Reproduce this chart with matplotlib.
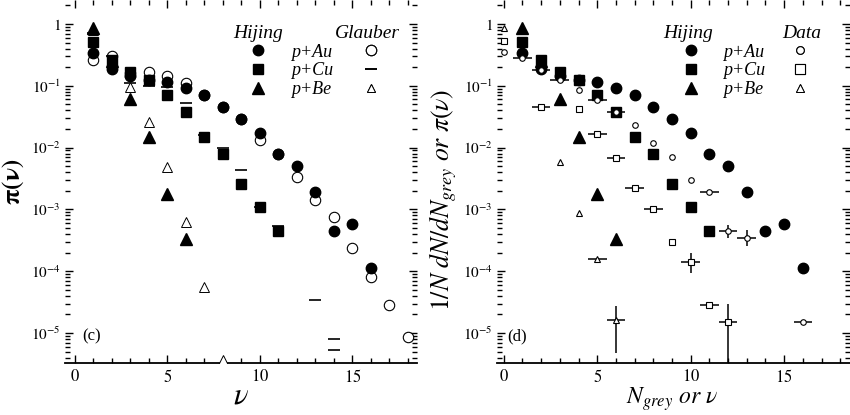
import numpy as np
import matplotlib
matplotlib.use("Agg")
import matplotlib.pyplot as plt
from matplotlib.lines import Line2D
from matplotlib.ticker import MultipleLocator, LogLocator, FuncFormatter, NullFormatter

plt.rcParams['font.family'] = ['Liberation Serif', 'DejaVu Serif']
plt.rcParams['mathtext.fontset'] = 'stix'

# ---------------- data ----------------
# Hijing pi(nu)
hij_au_nu = [1, 2, 3, 4, 5, 6, 7, 8, 9, 10, 11, 12, 13, 14, 15, 16]
hij_au = [0.34, 0.19, 0.144, 0.124, 0.115, 0.092, 0.071, 0.045, 0.029, 0.0173,
          0.0079, 0.0050, 0.00193, 4.5e-4, 5.7e-4, 1.12e-4]
hij_cu_nu = [1, 2, 3, 4, 5, 6, 7, 8, 9, 10, 11]
hij_cu = [0.51, 0.26, 0.17, 0.124, 0.071, 0.038, 0.0148, 0.0079, 0.0026, 0.0011, 4.5e-4]
hij_be_nu = [1, 2, 3, 4, 5, 6]
hij_be = [0.86, 0.25, 0.061, 0.0148, 0.0018, 3.3e-4]

# Glauber pi(nu)
gl_au_nu = [1, 2, 3, 4, 5, 6, 7, 8, 9, 10, 11, 12, 13, 14, 15, 16, 17, 18]
gl_au = [0.26, 0.30, 0.16, 0.17, 0.144, 0.111, 0.070, 0.045, 0.029, 0.0134,
         0.0080, 0.0033, 0.0014, 7.6e-4, 2.4e-4, 8.1e-5, 2.8e-5, 8.7e-6]
gl_cu_nu = [1, 2, 3, 4, 5, 6, 7, 8, 9, 10, 11, 13, 14, 14]
gl_cu = [0.71, 0.30, 0.11, 0.10, 0.096, 0.052, 0.016, 0.0098, 0.0044, 0.0011,
         5.3e-4, 3.4e-5, 7.9e-6, 5.3e-6]
gl_be_nu = [1, 2, 3, 4, 5, 6, 7, 8]
gl_be = [0.80, 0.25, 0.096, 0.026, 0.0049, 6.3e-4, 5.5e-5, 3.6e-6]

# Data 1/N dN/dNgrey
dat_au_n = [0, 1, 2, 3, 4, 5, 6, 7, 8, 9, 10, 11, 12, 13, 16]
dat_au = [0.35, 0.28, 0.18, 0.124, 0.085, 0.059, 0.038, 0.023, 0.0118, 0.0071,
          0.0030, 0.0019, 4.5e-4, 3.5e-4, 1.48e-5]
dat_au_xerr = [0, 0.5, 0.5, 0.5, 0, 0.5, 0.5, 0, 0, 0, 0, 0.5, 0.5, 0.5, 0.5]
dat_au_lo = [0.35, 0.28, 0.18, 0.124, 0.085, 0.059, 0.038, 0.023, 0.0118, 0.0071,
             0.0030, 0.0019, 3.4e-4, 2.6e-4, 1.48e-5]
dat_au_hi = [0.35, 0.28, 0.18, 0.124, 0.085, 0.059, 0.038, 0.023, 0.0118, 0.0071,
             0.0030, 0.0019, 5.6e-4, 4.6e-4, 1.48e-5]

dat_cu_n = [0, 2, 4, 5, 6, 7, 8, 9, 10, 11, 12]
dat_cu = [0.52, 0.045, 0.042, 0.0166, 0.0068, 0.0022, 0.0010, 3.0e-4, 1.42e-4, 2.8e-5, 1.5e-5]
dat_cu_xerr = [0, 0.5, 0, 0.5, 0.5, 0.5, 0.5, 0, 0.5, 0.5, 0.5]
dat_cu_lo = [0.52, 0.045, 0.042, 0.0166, 0.0068, 0.0022, 0.0010, 3.0e-4, 9.3e-5, 2.8e-5, 1e-7]
dat_cu_hi = [0.52, 0.045, 0.042, 0.0166, 0.0068, 0.0022, 0.0010, 3.0e-4, 1.96e-4, 2.8e-5, 3.0e-5]

dat_be_n = [0, 3, 4, 5, 6]
dat_be = [0.86, 0.0059, 8.9e-4, 1.56e-4, 1.6e-5]
dat_be_xerr = [0, 0, 0, 0.5, 0.5]
dat_be_lo = [0.86, 0.0059, 8.9e-4, 1.56e-4, 4.7e-6]
dat_be_hi = [0.86, 0.0059, 8.9e-4, 1.56e-4, 2.7e-5]

# ---------------- figure ----------------
W, H = 850, 415
fig = plt.figure(figsize=(W / 100, H / 100), dpi=100)
ax1 = fig.add_axes([65 / W, 52 / H, 352 / W, 363 / H])
ax2 = fig.add_axes([497 / W, 52 / H, 353 / W, 363 / H])

YMIN, YMAX = 3.27e-6, 2.44


def yfmt(v, p):
    if v <= 0:
        return ''
    e = int(round(np.log10(v)))
    if abs(np.log10(v) - e) > 1e-6:
        return ''
    if e == 0:
        return r'$\mathit{1}$'
    return r'$\mathit{10}^{\mathit{%d}}$' % e


def xfmt(v, p):
    return r'$\mathit{%d}$' % int(round(v))


def style_axes(ax, xlim):
    ax.set_yscale('log')
    ax.set_xlim(*xlim)
    ax.set_ylim(YMIN, YMAX)
    ax.xaxis.set_major_locator(MultipleLocator(5))
    ax.xaxis.set_minor_locator(MultipleLocator(1))
    ax.yaxis.set_major_locator(LogLocator(base=10, numticks=12))
    ax.yaxis.set_minor_locator(LogLocator(base=10, subs=np.arange(2, 10), numticks=12))
    ax.yaxis.set_minor_formatter(NullFormatter())
    ax.yaxis.set_major_formatter(FuncFormatter(yfmt))
    ax.xaxis.set_major_formatter(FuncFormatter(xfmt))
    ax.tick_params(which='both', direction='in', top=True, right=True, width=1.0)
    ax.tick_params(which='major', length=6)
    ax.tick_params(which='minor', length=3.5)
    ax.tick_params(axis='x', labelsize=12, pad=4)
    ax.tick_params(axis='y', labelsize=11, pad=3)
    for s in ['left', 'right', 'top']:
        ax.spines[s].set_visible(False)
    ax.spines['bottom'].set_linewidth(1.3)
    ax.patch.set_alpha(0)


style_axes(ax1, (-0.54, 18.49))
style_axes(ax2, (-0.36, 18.52))

fill_kw = dict(ls='none', color='black', zorder=4, clip_on=True)
ms_c, ms_s, ms_t = 7.5, 7.5, 8

# ---- left panel (Glauber) ----
ax1.plot(gl_au_nu, gl_au, marker='o', ls='none', mfc='white', mec='black', mew=0.8,
         ms=ms_c, zorder=3)
ax1.plot(gl_cu_nu, gl_cu, marker='_', ls='none', color='black', mew=1.2, ms=8, zorder=3)
ax1.plot(gl_be_nu, gl_be, marker='^', ls='none', mfc='white', mec='black', mew=0.7,
         ms=7, zorder=3)
# ---- Hijing in both panels ----
for ax in (ax1, ax2):
    ax.plot(hij_au_nu, hij_au, marker='o', ms=ms_c, **fill_kw)
    ax.plot(hij_cu_nu, hij_cu, marker='s', ms=ms_s, **fill_kw)
    ax.plot(hij_be_nu, hij_be, marker='^', ms=ms_t, **fill_kw)


# ---- right panel data ----
def draw_data(ax, n, y, xerr, lo, hi, marker):
    y = np.asarray(y)
    yerr = np.vstack([y - np.asarray(lo), np.asarray(hi) - y])
    ax.errorbar(n, y, xerr=xerr, yerr=yerr, fmt=marker, ms=4, mfc='white', mec='black',
                mew=0.8, ecolor='black', elinewidth=1.1, capsize=0, zorder=5)


draw_data(ax2, dat_au_n, dat_au, dat_au_xerr, dat_au_lo, dat_au_hi, 'o')
draw_data(ax2, dat_cu_n, dat_cu, dat_cu_xerr, dat_cu_lo, dat_cu_hi, 's')
draw_data(ax2, dat_be_n, dat_be, dat_be_xerr, dat_be_lo, dat_be_hi, '^')

# ---- legends ----
labels = ['p+Au', 'p+Cu', 'p+Be']
h_fill = [Line2D([], [], ls='none', marker='o', color='black', ms=ms_c),
          Line2D([], [], ls='none', marker='s', color='black', ms=ms_s),
          Line2D([], [], ls='none', marker='^', color='black', ms=ms_t)]
h_gl = [Line2D([], [], ls='none', marker='o', mfc='white', mec='black', mew=0.8, ms=7.5),
        Line2D([], [], ls='none', marker='_', color='black', mew=1.2, ms=8),
        Line2D([], [], ls='none', marker='^', mfc='white', mec='black', mew=0.7, ms=6)]
h_dat = [Line2D([], [], ls='none', marker='o', mfc='white', mec='black', mew=0.8, ms=5.5),
         Line2D([], [], ls='none', marker='s', mfc='white', mec='black', mew=0.8, ms=6.5),
         Line2D([], [], ls='none', marker='^', mfc='white', mec='black', mew=0.7, ms=5.5)]

leg_kw = dict(frameon=False, loc='upper left', handlelength=1.0, borderpad=0.0,
              borderaxespad=0.0, labelspacing=0.1, numpoints=1,
              prop={'family': 'Liberation Serif', 'style': 'italic', 'size': 13})


def add_legends(ax, x_fill, x_open, header1, header2, x_h1, x_h2, h_open):
    l1 = ax.legend(h_fill, labels, bbox_to_anchor=(x_fill, 0.880), handletextpad=1.3, **leg_kw)
    ax.add_artist(l1)
    l2 = ax.legend(h_open, ['', '', ''], bbox_to_anchor=(x_open, 0.880), handletextpad=0.0, **leg_kw)
    ax.add_artist(l2)
    ax.text(x_h1, 0.908, header1, transform=ax.transAxes, ha='left', va='center',
            fontsize=14, fontstyle='italic')
    ax.text(x_h2, 0.908, header2, transform=ax.transAxes, ha='left', va='center',
            fontsize=14, fontstyle='italic')


add_legends(ax1, 0.523, 0.843, 'Hijing', 'Glauber', 0.477, 0.767, h_gl)
add_legends(ax2, 0.524, 0.832, 'Hijing', 'Data', 0.470, 0.807, h_dat)

# ---- labels ----
ax1.text(0.048, 0.072, '(c)', transform=ax1.transAxes, fontsize=12, va='center', ha='left')
ax2.text(0.030, 0.072, '(d)', transform=ax2.transAxes, fontsize=12, va='center', ha='left')

ax1.set_ylabel(r'$\mathbf{\pi(\nu)}$', fontsize=18)
ax1.yaxis.set_label_coords(-0.11, 0.5)
ax1.set_xlabel(r'$\nu$', fontsize=22)
ax1.xaxis.set_label_coords(0.5, -0.05)

ax2.set_ylabel(r'$1/N\ dN/dN_{grey}\ or\ \pi(\nu)$', fontsize=18.5)
ax2.yaxis.set_label_coords(-0.108, 0.45)
ax2.set_xlabel(r'$N_{grey}\ or\ \nu$', fontsize=17)
ax2.xaxis.set_label_coords(0.496, -0.062)

fig.savefig('out.png', dpi=100)
